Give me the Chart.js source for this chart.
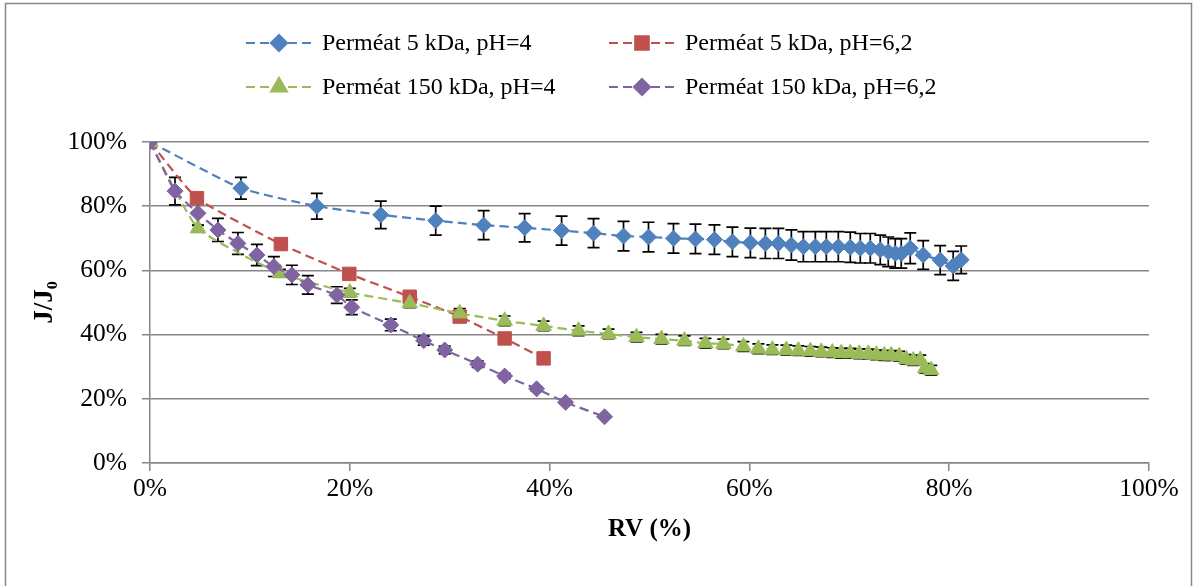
<!DOCTYPE html>
<html>
<head>
<meta charset="utf-8">
<script src="https://cdn.jsdelivr.net/npm/chart.js@4.4.1/dist/chart.umd.min.js"></script>
<style>
	html, body { margin: 0; padding: 0; background: #fff; }
</style>
</head>
<body>
<canvas id="flux_chart" width="1194" height="586"></canvas>
<script>
// RV (%) / J/J0 (%) / error (+-%)
const rv_5k_ph4 = [0, 9.1, 16.7, 23.1, 28.6, 33.4, 37.5, 41.2, 44.4, 47.4, 49.9, 52.4, 54.6, 56.5, 58.3, 60.1, 61.6, 62.9, 64.2, 65.4, 66.6, 67.7, 68.9, 70.1, 71.1, 72.1, 73.1, 73.9, 74.6, 75.2, 76.1, 77.4, 79.1, 80.4, 81.2]
const jj0_5k_ph4 = [100, 85.6, 80.0, 77.3, 75.5, 74.1, 73.3, 72.4, 71.6, 70.7, 70.4, 70.0, 69.8, 69.6, 68.9, 68.6, 68.4, 68.4, 67.9, 67.4, 67.4, 67.4, 67.4, 67.2, 66.9, 66.9, 66.4, 65.8, 65.3, 65.3, 66.9, 64.8, 63.2, 61.4, 63.3]
const err_5k_ph4 = [0, 3.4, 4.0, 4.3, 4.5, 4.5, 4.4, 4.5, 4.5, 4.6, 4.6, 4.6, 4.6, 4.6, 4.6, 4.6, 4.7, 4.7, 4.7, 4.7, 4.7, 4.7, 4.7, 4.7, 4.6, 4.6, 4.6, 4.6, 4.6, 4.6, 4.8, 4.5, 4.5, 4.5, 4.3]

const rv_5k_ph62 = [0, 4.7, 13.1, 19.95, 26.0, 31.0, 35.5, 39.4]
const jj0_5k_ph62 = [100, 82.5, 68.2, 58.9, 51.8, 45.6, 38.8, 32.6]

const rv_150k_ph4 = [0, 4.8, 13.0, 20.0, 26.0, 31.0, 35.5, 39.4, 42.9, 45.9, 48.7, 51.2, 53.5, 55.6, 57.4, 59.4, 60.9, 62.3, 63.7, 64.9, 66.1, 67.2, 68.3, 69.2, 70.1, 71.0, 71.9, 72.7, 73.5, 74.2, 75.0, 75.7, 76.4, 77.1, 77.6, 78.2]
const jj0_150k_ph4 = [100, 73.1, 59.1, 53.1, 49.8, 46.6, 44.3, 42.7, 41.2, 40.2, 39.2, 38.6, 38.1, 37.3, 37.1, 36.3, 35.6, 35.3, 35.2, 35.0, 34.8, 34.6, 34.4, 34.2, 34.2, 34.0, 34.0, 33.7, 33.5, 33.5, 33.3, 32.3, 31.9, 32.1, 29.5, 28.9]
const err_150k_ph4 = [0, 1.0, 1.2, 1.3, 1.4, 1.5, 1.5, 1.5, 1.5, 1.5, 1.5, 1.5, 1.5, 1.5, 1.5, 1.5, 1.5, 1.5, 1.5, 1.5, 1.5, 1.5, 1.5, 1.5, 1.5, 1.5, 1.5, 1.5, 1.5, 1.5, 1.5, 1.5, 1.5, 1.5, 1.5, 1.5]

const rv_150k_ph62 = [0, 2.5, 4.8, 6.8, 8.8, 10.7, 12.4, 14.2, 15.8, 18.7, 20.2, 24.1, 27.4, 29.5, 32.8, 35.5, 38.7, 41.6, 45.5]
const jj0_150k_ph62 = [100, 84.7, 77.8, 72.6, 68.4, 64.8, 61.2, 58.6, 55.5, 52.3, 48.5, 43.0, 38.1, 35.2, 30.8, 27.1, 23.1, 18.9, 14.4]
const err_150k_ph62 = [0, 4.3, 3.8, 3.6, 3.4, 3.3, 3.1, 3.0, 2.9, 2.6, 2.3, 1.8, 1.4, 1.2, 1.0, 0.8, 0.6, 0.5, 0.3]

const axis_ticks = [0, 20, 40, 60, 80, 100]

const series_names = ['Perméat 5 kDa, pH=4', 'Perméat 5 kDa, pH=6,2', 'Perméat 150 kDa, pH=4', 'Perméat 150 kDa, pH=6,2']

function toPoints(xs, ys) {
	let pts = []
	for (let i = 0; i < xs.length; i++) {
		pts.push({ x: xs[i], y: ys[i] })
	}
	return pts
}

function makeSet(label, xs, ys, errs, color, style, radius, order) {
	return {
		label: label,
		data: toPoints(xs, ys),
		errors: errs,
		showLine: true,
		borderColor: color,
		backgroundColor: color,
		borderWidth: 2.2,
		borderDash: [9, 5],
		tension: 0.15,
		pointStyle: style,
		pointRadius: radius,
		pointHoverRadius: radius,
		pointBackgroundColor: color,
		pointBorderColor: color,
		pointBorderWidth: 1,
		order: order
	}
}

const serif = "'Liberation Serif', 'Times New Roman', serif"
Chart.defaults.font.family = serif
Chart.defaults.font.size = 24
Chart.defaults.color = '#000'

// white background + outer frame
const framePlugin = {
	id: 'frame',
	beforeDraw(chart) {
		const c = chart.ctx
		c.save()
		c.fillStyle = '#fff'
		c.fillRect(0, 0, chart.width, chart.height)
		c.strokeStyle = '#868686'
		c.lineWidth = 1.5
		c.strokeRect(5.5, 3.5, 1186, 600)
		c.restore()
	}
}

// vertical error bars, drawn under the markers
const errorBarPlugin = {
	id: 'errorBars',
	beforeDatasetsDraw(chart) {
		const c = chart.ctx
		const xs = chart.scales.x
		const ys = chart.scales.y
		c.save()
		c.strokeStyle = '#000'
		c.lineWidth = 1.7
		chart.data.datasets.forEach(ds => {
			if (!ds.errors) return
			ds.data.forEach((p, j) => {
				const e = ds.errors[j]
				if (!e) return
				const px = xs.getPixelForValue(p.x)
				const top = ys.getPixelForValue(p.y + e)
				const bot = ys.getPixelForValue(p.y - e)
				c.beginPath()
				c.moveTo(px, top); c.lineTo(px, bot)
				c.moveTo(px - 6, top); c.lineTo(px + 6, top)
				c.moveTo(px - 6, bot); c.lineTo(px + 6, bot)
				c.stroke()
			})
		})
		c.restore()
	}
}

// legend in a 2x2 grid
const gridLegendPlugin = {
	id: 'gridLegend',
	afterDraw(chart) {
		const c = chart.ctx
		const cols = [246, 609]
		const rows = [43, 87]
		c.save()
		chart.data.datasets.forEach((ds, i) => {
			const x = cols[i % 2]
			const y = rows[Math.floor(i / 2)]
			c.strokeStyle = ds.borderColor
			c.lineWidth = 2.2
			c.setLineDash([9, 5])
			c.beginPath()
			c.moveTo(x, y); c.lineTo(x + 66, y)
			c.stroke()
			c.setLineDash([])
			c.fillStyle = ds.pointBackgroundColor
			c.strokeStyle = ds.pointBorderColor
			Chart.helpers.drawPoint(c, { pointStyle: ds.pointStyle, radius: ds.pointRadius, rotation: 0, borderWidth: 1 }, x + 33, y)
			c.fillStyle = '#000'
			c.font = '24px ' + serif
			c.textBaseline = 'middle'
			c.fillText(ds.label, x + 76, y + 1)
		})
		c.restore()
	}
}

const ctx = document.getElementById('flux_chart').getContext('2d')
const flux_chart = new Chart(ctx, {
	type: 'scatter',
	data: {
		datasets: [
			makeSet(series_names[0], rv_5k_ph4, jj0_5k_ph4, err_5k_ph4, '#4F81BD', 'rectRot', 8, 3),
			makeSet(series_names[1], rv_5k_ph62, jj0_5k_ph62, null, '#C0504D', 'rect', 9.5, 2),
			makeSet(series_names[2], rv_150k_ph4, jj0_150k_ph4, err_150k_ph4, '#9BBB59', 'triangle', 9, 1),
			makeSet(series_names[3], rv_150k_ph62, jj0_150k_ph62, err_150k_ph62, '#8064A2', 'rectRot', 8, 0)
		]
	},
	options: {
		responsive: false,
		animation: false,
		layout: { padding: { left: 0, top: 142, right: 45, bottom: 0 } },
		plugins: {
			legend: { display: false },
			tooltip: { enabled: false }
		},
		scales: {
			x: {
				type: 'linear',
				min: 0,
				max: 100,
				afterBuildTicks: s => { s.ticks = axis_ticks.map(v => ({ value: v })) },
				afterFit: s => { s.height = 123 },
				ticks: { color: '#000', padding: 3, font: { size: 25.5 }, callback: v => v + '%' },
				grid: { drawOnChartArea: false, tickLength: 8, color: '#868686', lineWidth: 1.5 },
				border: { color: '#868686', width: 1.5 },
				title: { display: true, text: 'RV (%)', font: { size: 25, weight: 'bold' }, padding: { top: 0, bottom: 41 } }
			},
			y: {
				type: 'linear',
				min: 0,
				max: 100,
				afterBuildTicks: s => { s.ticks = axis_ticks.map(v => ({ value: v })) },
				afterFit: s => { s.width = 150 },
				ticks: { color: '#000', padding: 15, font: { size: 25.5 }, callback: v => v + '%' },
				grid: { tickLength: 8, color: '#868686', lineWidth: 1.5 },
				border: { color: '#868686', width: 1.5 },
				title: { display: true, text: 'J/J₀', font: { size: 27, weight: 'bold' }, padding: { top: 29, bottom: 0 } }
			}
		}
	},
	plugins: [framePlugin, errorBarPlugin, gridLegendPlugin]
})
</script>
</body>
</html>
